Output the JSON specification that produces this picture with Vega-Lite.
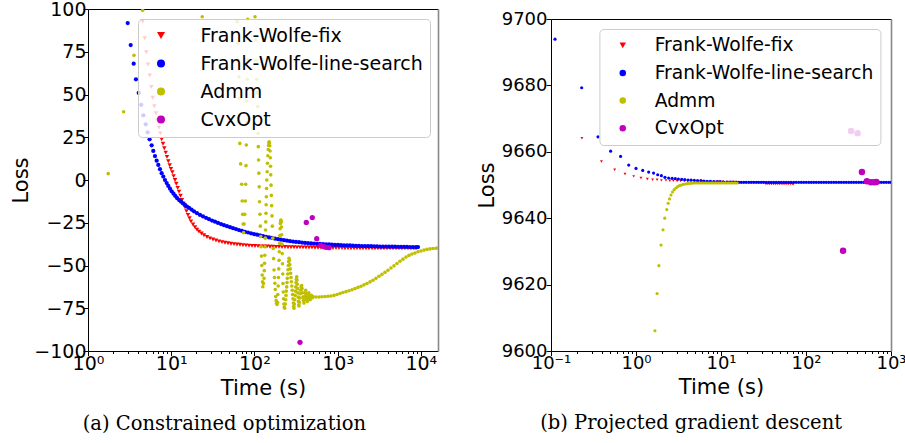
{
"$schema": "https://vega.github.io/schema/vega-lite/v6.json",
"padding": {"left": 10, "top": 0, "right": 0, "bottom": 0},
"background": "white",
"config": {
  "view": {"stroke": null},
  "font": "DejaVu Sans",
  "axis": {"grid": false, "domainColor": "#000", "tickColor": "#000", "labelColor": "#000", "titleColor": "#000", "labelFont": "DejaVu Sans", "titleFont": "DejaVu Sans", "titleFontWeight": "normal", "labelFlush": false, "labelOverlap": false, "labelBound": false, "domainWidth": 1, "tickWidth": 1},
  "legend": {"labelFont": "DejaVu Sans", "labelColor": "#000", "labelLimit": 400, "fillColor": "rgba(255,255,255,0.8)", "strokeColor": "#cccccc", "cornerRadius": 4, "symbolStrokeWidth": 0}
},
"resolve": {"scale": {"color": "independent", "shape": "independent"}, "legend": {"color": "independent", "shape": "independent"}},
"datasets": {
"a": [
{"method":"Frank-Wolfe-fix","time":4.54,"loss":92.8},
{"method":"Frank-Wolfe-fix","time":4.8,"loss":82.9},
{"method":"Frank-Wolfe-fix","time":5.02,"loss":74.7},
{"method":"Frank-Wolfe-fix","time":5.26,"loss":67.6},
{"method":"Frank-Wolfe-fix","time":5.52,"loss":61.2},
{"method":"Frank-Wolfe-fix","time":5.77,"loss":54.4},
{"method":"Frank-Wolfe-fix","time":6.0,"loss":48.1},
{"method":"Frank-Wolfe-fix","time":6.27,"loss":43.1},
{"method":"Frank-Wolfe-fix","time":6.56,"loss":39.0},
{"method":"Frank-Wolfe-fix","time":6.81,"loss":34.9},
{"method":"Frank-Wolfe-fix","time":7.13,"loss":30.6},
{"method":"Frank-Wolfe-fix","time":7.4,"loss":27.3},
{"method":"Frank-Wolfe-fix","time":7.69,"loss":23.8},
{"method":"Frank-Wolfe-fix","time":7.97,"loss":21.2},
{"method":"Frank-Wolfe-fix","time":8.26,"loss":18.6},
{"method":"Frank-Wolfe-fix","time":8.59,"loss":16.0},
{"method":"Frank-Wolfe-fix","time":8.9,"loss":13.5},
{"method":"Frank-Wolfe-fix","time":9.23,"loss":11.0},
{"method":"Frank-Wolfe-fix","time":9.59,"loss":8.6},
{"method":"Frank-Wolfe-fix","time":9.94,"loss":6.5},
{"method":"Frank-Wolfe-fix","time":10.31,"loss":4.5},
{"method":"Frank-Wolfe-fix","time":10.69,"loss":2.3},
{"method":"Frank-Wolfe-fix","time":11.11,"loss":0.0},
{"method":"Frank-Wolfe-fix","time":11.51,"loss":-2.2},
{"method":"Frank-Wolfe-fix","time":11.97,"loss":-4.6},
{"method":"Frank-Wolfe-fix","time":12.41,"loss":-6.8},
{"method":"Frank-Wolfe-fix","time":12.94,"loss":-9.2},
{"method":"Frank-Wolfe-fix","time":13.49,"loss":-11.6},
{"method":"Frank-Wolfe-fix","time":14.05,"loss":-13.8},
{"method":"Frank-Wolfe-fix","time":14.65,"loss":-16.0},
{"method":"Frank-Wolfe-fix","time":15.27,"loss":-18.2},
{"method":"Frank-Wolfe-fix","time":15.92,"loss":-20.4},
{"method":"Frank-Wolfe-fix","time":16.6,"loss":-22.4},
{"method":"Frank-Wolfe-fix","time":17.3,"loss":-24.2},
{"method":"Frank-Wolfe-fix","time":18.28,"loss":-26.0},
{"method":"Frank-Wolfe-fix","time":19.32,"loss":-27.6},
{"method":"Frank-Wolfe-fix","time":20.42,"loss":-29.0},
{"method":"Frank-Wolfe-fix","time":21.59,"loss":-30.2},
{"method":"Frank-Wolfe-fix","time":23.13,"loss":-31.3},
{"method":"Frank-Wolfe-fix","time":24.79,"loss":-32.3},
{"method":"Frank-Wolfe-fix","time":26.94,"loss":-33.3},
{"method":"Frank-Wolfe-fix","time":29.27,"loss":-34.1},
{"method":"Frank-Wolfe-fix","time":31.81,"loss":-34.8},
{"method":"Frank-Wolfe-fix","time":34.56,"loss":-35.4},
{"method":"Frank-Wolfe-fix","time":37.55,"loss":-35.9},
{"method":"Frank-Wolfe-fix","time":40.8,"loss":-36.3},
{"method":"Frank-Wolfe-fix","time":44.33,"loss":-36.7},
{"method":"Frank-Wolfe-fix","time":48.17,"loss":-37.0},
{"method":"Frank-Wolfe-fix","time":52.34,"loss":-37.3},
{"method":"Frank-Wolfe-fix","time":56.87,"loss":-37.5},
{"method":"Frank-Wolfe-fix","time":61.79,"loss":-37.7},
{"method":"Frank-Wolfe-fix","time":67.14,"loss":-37.9},
{"method":"Frank-Wolfe-fix","time":72.95,"loss":-38.1},
{"method":"Frank-Wolfe-fix","time":79.26,"loss":-38.2},
{"method":"Frank-Wolfe-fix","time":86.12,"loss":-38.4},
{"method":"Frank-Wolfe-fix","time":93.58,"loss":-38.5},
{"method":"Frank-Wolfe-fix","time":101.7,"loss":-38.6},
{"method":"Frank-Wolfe-fix","time":110.5,"loss":-38.7},
{"method":"Frank-Wolfe-fix","time":120.0,"loss":-38.8},
{"method":"Frank-Wolfe-fix","time":130.5,"loss":-38.9},
{"method":"Frank-Wolfe-fix","time":141.7,"loss":-38.9},
{"method":"Frank-Wolfe-fix","time":154.0,"loss":-39.0},
{"method":"Frank-Wolfe-fix","time":167.3,"loss":-39.0},
{"method":"Frank-Wolfe-fix","time":181.8,"loss":-39.1},
{"method":"Frank-Wolfe-fix","time":197.6,"loss":-39.1},
{"method":"Frank-Wolfe-fix","time":214.6,"loss":-39.2},
{"method":"Frank-Wolfe-fix","time":233.2,"loss":-39.2},
{"method":"Frank-Wolfe-fix","time":253.4,"loss":-39.3},
{"method":"Frank-Wolfe-fix","time":275.4,"loss":-39.3},
{"method":"Frank-Wolfe-fix","time":299.2,"loss":-39.3},
{"method":"Frank-Wolfe-fix","time":325.1,"loss":-39.4},
{"method":"Frank-Wolfe-fix","time":353.3,"loss":-39.4},
{"method":"Frank-Wolfe-fix","time":383.8,"loss":-39.4},
{"method":"Frank-Wolfe-fix","time":417.1,"loss":-39.5},
{"method":"Frank-Wolfe-fix","time":453.2,"loss":-39.5},
{"method":"Frank-Wolfe-fix","time":492.5,"loss":-39.5},
{"method":"Frank-Wolfe-fix","time":535,"loss":-39.6},
{"method":"Frank-Wolfe-fix","time":581.4,"loss":-39.6},
{"method":"Frank-Wolfe-fix","time":631.8,"loss":-39.6},
{"method":"Frank-Wolfe-fix","time":687,"loss":-39.7},
{"method":"Frank-Wolfe-fix","time":746,"loss":-39.7},
{"method":"Frank-Wolfe-fix","time":810.4,"loss":-39.7},
{"method":"Frank-Wolfe-fix","time":880.6,"loss":-39.8},
{"method":"Frank-Wolfe-fix","time":956.8,"loss":-39.8},
{"method":"Frank-Wolfe-fix","time":1040,"loss":-39.8},
{"method":"Frank-Wolfe-fix","time":1129.7,"loss":-39.8},
{"method":"Frank-Wolfe-fix","time":1227.5,"loss":-39.9},
{"method":"Frank-Wolfe-fix","time":1333.5,"loss":-39.9},
{"method":"Frank-Wolfe-fix","time":1449,"loss":-39.9},
{"method":"Frank-Wolfe-fix","time":1574.5,"loss":-39.9},
{"method":"Frank-Wolfe-fix","time":1710.9,"loss":-39.9},
{"method":"Frank-Wolfe-fix","time":1858.8,"loss":-40.0},
{"method":"Frank-Wolfe-fix","time":2020,"loss":-40.0},
{"method":"Frank-Wolfe-fix","time":2194.6,"loss":-40.0},
{"method":"Frank-Wolfe-fix","time":2384.6,"loss":-40.0},
{"method":"Frank-Wolfe-fix","time":2591.4,"loss":-40.0},
{"method":"Frank-Wolfe-fix","time":2815.6,"loss":-40.0},
{"method":"Frank-Wolfe-fix","time":3059.5,"loss":-40.0},
{"method":"Frank-Wolfe-fix","time":3324,"loss":-40.0},
{"method":"Frank-Wolfe-fix","time":3612,"loss":-40.0},
{"method":"Frank-Wolfe-fix","time":3925,"loss":-40.0},
{"method":"Frank-Wolfe-fix","time":4265,"loss":-40.0},
{"method":"Frank-Wolfe-fix","time":4634,"loss":-40.0},
{"method":"Frank-Wolfe-fix","time":5035,"loss":-40.0},
{"method":"Frank-Wolfe-fix","time":5470,"loss":-40.0},
{"method":"Frank-Wolfe-fix","time":5943,"loss":-40.0},
{"method":"Frank-Wolfe-fix","time":6458,"loss":-40.0},
{"method":"Frank-Wolfe-fix","time":7018,"loss":-40.0},
{"method":"Frank-Wolfe-fix","time":7624,"loss":-40.0},
{"method":"Frank-Wolfe-fix","time":8285,"loss":-40.0},
{"method":"Frank-Wolfe-fix","time":8756,"loss":-40.0},
{"method":"Frank-Wolfe-line-search","time":3.0,"loss":91.8},
{"method":"Frank-Wolfe-line-search","time":3.26,"loss":78.9},
{"method":"Frank-Wolfe-line-search","time":3.54,"loss":68.0},
{"method":"Frank-Wolfe-line-search","time":3.77,"loss":58.9},
{"method":"Frank-Wolfe-line-search","time":4.07,"loss":50.9},
{"method":"Frank-Wolfe-line-search","time":4.37,"loss":44.0},
{"method":"Frank-Wolfe-line-search","time":4.62,"loss":37.8},
{"method":"Frank-Wolfe-line-search","time":4.94,"loss":32.6},
{"method":"Frank-Wolfe-line-search","time":5.21,"loss":27.9},
{"method":"Frank-Wolfe-line-search","time":5.5,"loss":23.8},
{"method":"Frank-Wolfe-line-search","time":5.82,"loss":20.3},
{"method":"Frank-Wolfe-line-search","time":6.09,"loss":17.0},
{"method":"Frank-Wolfe-line-search","time":6.38,"loss":14.0},
{"method":"Frank-Wolfe-line-search","time":6.69,"loss":11.3},
{"method":"Frank-Wolfe-line-search","time":7.0,"loss":8.8},
{"method":"Frank-Wolfe-line-search","time":7.33,"loss":6.3},
{"method":"Frank-Wolfe-line-search","time":7.68,"loss":4.0},
{"method":"Frank-Wolfe-line-search","time":8.04,"loss":2.0},
{"method":"Frank-Wolfe-line-search","time":8.42,"loss":0.0},
{"method":"Frank-Wolfe-line-search","time":8.83,"loss":-1.8},
{"method":"Frank-Wolfe-line-search","time":9.23,"loss":-3.5},
{"method":"Frank-Wolfe-line-search","time":9.67,"loss":-5.1},
{"method":"Frank-Wolfe-line-search","time":10.14,"loss":-6.6},
{"method":"Frank-Wolfe-line-search","time":10.66,"loss":-8.0},
{"method":"Frank-Wolfe-line-search","time":11.2,"loss":-9.3},
{"method":"Frank-Wolfe-line-search","time":11.81,"loss":-10.6},
{"method":"Frank-Wolfe-line-search","time":12.45,"loss":-11.7},
{"method":"Frank-Wolfe-line-search","time":13.12,"loss":-12.7},
{"method":"Frank-Wolfe-line-search","time":13.86,"loss":-13.7},
{"method":"Frank-Wolfe-line-search","time":14.65,"loss":-14.6},
{"method":"Frank-Wolfe-line-search","time":15.49,"loss":-15.5},
{"method":"Frank-Wolfe-line-search","time":16.37,"loss":-16.3},
{"method":"Frank-Wolfe-line-search","time":17.54,"loss":-17.3},
{"method":"Frank-Wolfe-line-search","time":18.79,"loss":-18.3},
{"method":"Frank-Wolfe-line-search","time":20.42,"loss":-19.4},
{"method":"Frank-Wolfe-line-search","time":22.19,"loss":-20.4},
{"method":"Frank-Wolfe-line-search","time":24.11,"loss":-21.3},
{"method":"Frank-Wolfe-line-search","time":26.2,"loss":-22.1},
{"method":"Frank-Wolfe-line-search","time":28.47,"loss":-22.9},
{"method":"Frank-Wolfe-line-search","time":30.94,"loss":-23.7},
{"method":"Frank-Wolfe-line-search","time":33.61,"loss":-24.4},
{"method":"Frank-Wolfe-line-search","time":36.52,"loss":-25.1},
{"method":"Frank-Wolfe-line-search","time":39.68,"loss":-25.8},
{"method":"Frank-Wolfe-line-search","time":43.11,"loss":-26.4},
{"method":"Frank-Wolfe-line-search","time":46.85,"loss":-27.0},
{"method":"Frank-Wolfe-line-search","time":50.9,"loss":-27.6},
{"method":"Frank-Wolfe-line-search","time":55.31,"loss":-28.2},
{"method":"Frank-Wolfe-line-search","time":60.09,"loss":-28.7},
{"method":"Frank-Wolfe-line-search","time":65.3,"loss":-29.3},
{"method":"Frank-Wolfe-line-search","time":70.96,"loss":-29.8},
{"method":"Frank-Wolfe-line-search","time":77.09,"loss":-30.3},
{"method":"Frank-Wolfe-line-search","time":83.77,"loss":-30.7},
{"method":"Frank-Wolfe-line-search","time":91.01,"loss":-31.2},
{"method":"Frank-Wolfe-line-search","time":98.9,"loss":-31.6},
{"method":"Frank-Wolfe-line-search","time":107.5,"loss":-32.0},
{"method":"Frank-Wolfe-line-search","time":116.8,"loss":-32.4},
{"method":"Frank-Wolfe-line-search","time":126.9,"loss":-32.8},
{"method":"Frank-Wolfe-line-search","time":137.9,"loss":-33.2},
{"method":"Frank-Wolfe-line-search","time":149.8,"loss":-33.6},
{"method":"Frank-Wolfe-line-search","time":162.7,"loss":-33.9},
{"method":"Frank-Wolfe-line-search","time":176.8,"loss":-34.3},
{"method":"Frank-Wolfe-line-search","time":192.1,"loss":-34.6},
{"method":"Frank-Wolfe-line-search","time":208.8,"loss":-34.9},
{"method":"Frank-Wolfe-line-search","time":226.9,"loss":-35.2},
{"method":"Frank-Wolfe-line-search","time":246.5,"loss":-35.5},
{"method":"Frank-Wolfe-line-search","time":267.9,"loss":-35.8},
{"method":"Frank-Wolfe-line-search","time":291.0,"loss":-36.0},
{"method":"Frank-Wolfe-line-search","time":316.2,"loss":-36.2},
{"method":"Frank-Wolfe-line-search","time":344,"loss":-36.4},
{"method":"Frank-Wolfe-line-search","time":373.4,"loss":-36.6},
{"method":"Frank-Wolfe-line-search","time":405.7,"loss":-36.8},
{"method":"Frank-Wolfe-line-search","time":440.8,"loss":-36.9},
{"method":"Frank-Wolfe-line-search","time":479,"loss":-37.1},
{"method":"Frank-Wolfe-line-search","time":520.4,"loss":-37.2},
{"method":"Frank-Wolfe-line-search","time":565.5,"loss":-37.3},
{"method":"Frank-Wolfe-line-search","time":614.4,"loss":-37.4},
{"method":"Frank-Wolfe-line-search","time":667.6,"loss":-37.5},
{"method":"Frank-Wolfe-line-search","time":725.4,"loss":-37.6},
{"method":"Frank-Wolfe-line-search","time":789,"loss":-37.7},
{"method":"Frank-Wolfe-line-search","time":856.4,"loss":-37.8},
{"method":"Frank-Wolfe-line-search","time":930.5,"loss":-37.9},
{"method":"Frank-Wolfe-line-search","time":1011,"loss":-38.0},
{"method":"Frank-Wolfe-line-search","time":1099,"loss":-38.1},
{"method":"Frank-Wolfe-line-search","time":1194,"loss":-38.2},
{"method":"Frank-Wolfe-line-search","time":1297,"loss":-38.2},
{"method":"Frank-Wolfe-line-search","time":1409,"loss":-38.3},
{"method":"Frank-Wolfe-line-search","time":1531,"loss":-38.4},
{"method":"Frank-Wolfe-line-search","time":1664,"loss":-38.5},
{"method":"Frank-Wolfe-line-search","time":1808,"loss":-38.5},
{"method":"Frank-Wolfe-line-search","time":1965,"loss":-38.6},
{"method":"Frank-Wolfe-line-search","time":2135,"loss":-38.6},
{"method":"Frank-Wolfe-line-search","time":2320,"loss":-38.7},
{"method":"Frank-Wolfe-line-search","time":2520,"loss":-38.7},
{"method":"Frank-Wolfe-line-search","time":2738,"loss":-38.8},
{"method":"Frank-Wolfe-line-search","time":2976,"loss":-38.8},
{"method":"Frank-Wolfe-line-search","time":3233,"loss":-38.9},
{"method":"Frank-Wolfe-line-search","time":3513,"loss":-38.9},
{"method":"Frank-Wolfe-line-search","time":3817,"loss":-38.9},
{"method":"Frank-Wolfe-line-search","time":4148,"loss":-39.0},
{"method":"Frank-Wolfe-line-search","time":4506,"loss":-39.0},
{"method":"Frank-Wolfe-line-search","time":4897,"loss":-39.0},
{"method":"Frank-Wolfe-line-search","time":5321,"loss":-39.1},
{"method":"Frank-Wolfe-line-search","time":5781,"loss":-39.1},
{"method":"Frank-Wolfe-line-search","time":6282,"loss":-39.1},
{"method":"Frank-Wolfe-line-search","time":6826,"loss":-39.1},
{"method":"Frank-Wolfe-line-search","time":7417,"loss":-39.2},
{"method":"Frank-Wolfe-line-search","time":8058,"loss":-39.2},
{"method":"Frank-Wolfe-line-search","time":8756,"loss":-39.2},
{"method":"Frank-Wolfe-line-search","time":9254,"loss":-39.2},
{"method":"Admm","time":1.75,"loss":3.7},
{"method":"Admm","time":2.68,"loss":39.9},
{"method":"Admm","time":3.57,"loss":72.9},
{"method":"Admm","time":4.54,"loss":99.2},
{"method":"Admm","time":23.6,"loss":95.5},
{"method":"Admm","time":62.1,"loss":92.6},
{"method":"Admm","time":63.3,"loss":80.0},
{"method":"Admm","time":64.3,"loss":70.0},
{"method":"Admm","time":65.2,"loss":60.4},
{"method":"Admm","time":65.9,"loss":47.8},
{"method":"Admm","time":66.4,"loss":34.0},
{"method":"Admm","time":66.8,"loss":21.4},
{"method":"Admm","time":68.3,"loss":9.4},
{"method":"Admm","time":70.3,"loss":-2.5},
{"method":"Admm","time":71.3,"loss":-12.3},
{"method":"Admm","time":72.3,"loss":-20.1},
{"method":"Admm","time":73.2,"loss":-25.7},
{"method":"Admm","time":74.0,"loss":-30.8},
{"method":"Admm","time":75.2,"loss":-25.7},
{"method":"Admm","time":76.5,"loss":-20.1},
{"method":"Admm","time":77.7,"loss":-12.3},
{"method":"Admm","time":78.5,"loss":-2.5},
{"method":"Admm","time":79.3,"loss":8.4},
{"method":"Admm","time":79.9,"loss":20.5},
{"method":"Admm","time":80.4,"loss":33.5},
{"method":"Admm","time":81.0,"loss":46.2},
{"method":"Admm","time":81.8,"loss":58.9},
{"method":"Admm","time":82.2,"loss":70.5},
{"method":"Admm","time":82.6,"loss":82.9},
{"method":"Admm","time":83.2,"loss":94.0},
{"method":"Admm","time":101.7,"loss":95.5},
{"method":"Admm","time":103.2,"loss":81.9},
{"method":"Admm","time":105.0,"loss":70.0},
{"method":"Admm","time":106.6,"loss":58.9},
{"method":"Admm","time":108.2,"loss":51.0},
{"method":"Admm","time":109.6,"loss":42.9},
{"method":"Admm","time":110.6,"loss":27.3},
{"method":"Admm","time":111.5,"loss":19.5},
{"method":"Admm","time":112.3,"loss":11.7},
{"method":"Admm","time":113.2,"loss":4.0},
{"method":"Admm","time":114.2,"loss":-4.0},
{"method":"Admm","time":115.3,"loss":-12.7},
{"method":"Admm","time":116.5,"loss":-20.0},
{"method":"Admm","time":117.8,"loss":-27.0},
{"method":"Admm","time":119.3,"loss":-33.0},
{"method":"Admm","time":120.5,"loss":-39.0},
{"method":"Admm","time":121.6,"loss":-44.5},
{"method":"Admm","time":122.8,"loss":-50.0},
{"method":"Admm","time":124.0,"loss":-55.6},
{"method":"Admm","time":125.2,"loss":-59.5},
{"method":"Admm","time":126.3,"loss":-62.4},
{"method":"Admm","time":128.5,"loss":-60.5},
{"method":"Admm","time":130.5,"loss":-57.5},
{"method":"Admm","time":131.5,"loss":-53.0},
{"method":"Admm","time":132.5,"loss":-48.7},
{"method":"Admm","time":133.5,"loss":-44.0},
{"method":"Admm","time":134.4,"loss":-39.0},
{"method":"Admm","time":135.3,"loss":-34.0},
{"method":"Admm","time":136.2,"loss":-29.2},
{"method":"Admm","time":137.0,"loss":-24.5},
{"method":"Admm","time":137.8,"loss":-19.5},
{"method":"Admm","time":138.6,"loss":-14.5},
{"method":"Admm","time":139.2,"loss":-9.8},
{"method":"Admm","time":140.0,"loss":-5.0},
{"method":"Admm","time":141.0,"loss":0.0},
{"method":"Admm","time":142.3,"loss":4.8},
{"method":"Admm","time":143.7,"loss":9.8},
{"method":"Admm","time":145.2,"loss":14.2},
{"method":"Admm","time":146.7,"loss":17.8},
{"method":"Admm","time":148.0,"loss":20.2},
{"method":"Admm","time":149.2,"loss":21.8},
{"method":"Admm","time":150.5,"loss":22.4},
{"method":"Admm","time":151.8,"loss":21.8},
{"method":"Admm","time":153.0,"loss":20.0},
{"method":"Admm","time":154.2,"loss":17.0},
{"method":"Admm","time":155.3,"loss":13.0},
{"method":"Admm","time":156.3,"loss":8.0},
{"method":"Admm","time":157.3,"loss":3.0},
{"method":"Admm","time":158.5,"loss":-3.0},
{"method":"Admm","time":159.8,"loss":-9.0},
{"method":"Admm","time":161.2,"loss":-15.0},
{"method":"Admm","time":162.7,"loss":-21.0},
{"method":"Admm","time":164.3,"loss":-27.0},
{"method":"Admm","time":166.2,"loss":-34.0},
{"method":"Admm","time":168.3,"loss":-40.0},
{"method":"Admm","time":170.2,"loss":-46.0},
{"method":"Admm","time":172.2,"loss":-52.6},
{"method":"Admm","time":174.3,"loss":-57.0},
{"method":"Admm","time":176.3,"loss":-60.4},
{"method":"Admm","time":178.3,"loss":-64.0},
{"method":"Admm","time":180.3,"loss":-68.2},
{"method":"Admm","time":182.5,"loss":-70.5},
{"method":"Admm","time":184.7,"loss":-72.1},
{"method":"Admm","time":187.0,"loss":-72.8},
{"method":"Admm","time":189.5,"loss":-71.5},
{"method":"Admm","time":191.5,"loss":-67.0},
{"method":"Admm","time":193.2,"loss":-62.0},
{"method":"Admm","time":194.8,"loss":-57.0},
{"method":"Admm","time":196.3,"loss":-52.0},
{"method":"Admm","time":197.8,"loss":-47.0},
{"method":"Admm","time":199.2,"loss":-42.0},
{"method":"Admm","time":200.6,"loss":-37.0},
{"method":"Admm","time":202.0,"loss":-32.5},
{"method":"Admm","time":203.5,"loss":-28.5},
{"method":"Admm","time":205.0,"loss":-25.5},
{"method":"Admm","time":206.7,"loss":-23.8},
{"method":"Admm","time":208.4,"loss":-23.4},
{"method":"Admm","time":210.0,"loss":-24.5},
{"method":"Admm","time":211.5,"loss":-27.5},
{"method":"Admm","time":213.0,"loss":-32.0},
{"method":"Admm","time":214.5,"loss":-37.5},
{"method":"Admm","time":216.0,"loss":-43.0},
{"method":"Admm","time":217.6,"loss":-49.0},
{"method":"Admm","time":219.2,"loss":-55.0},
{"method":"Admm","time":220.8,"loss":-60.5},
{"method":"Admm","time":222.5,"loss":-65.5},
{"method":"Admm","time":224.3,"loss":-69.5},
{"method":"Admm","time":226.3,"loss":-72.5},
{"method":"Admm","time":228.5,"loss":-74.3},
{"method":"Admm","time":231.0,"loss":-75.0},
{"method":"Admm","time":235.2,"loss":-72.5},
{"method":"Admm","time":237.8,"loss":-70.0},
{"method":"Admm","time":239.8,"loss":-67.5},
{"method":"Admm","time":241.8,"loss":-65.0},
{"method":"Admm","time":244.5,"loss":-62.5},
{"method":"Admm","time":246.5,"loss":-60.0},
{"method":"Admm","time":248.6,"loss":-57.5},
{"method":"Admm","time":251.3,"loss":-55.0},
{"method":"Admm","time":253.4,"loss":-52.5},
{"method":"Admm","time":255.5,"loss":-50.0},
{"method":"Admm","time":257.7,"loss":-47.8},
{"method":"Admm","time":260.5,"loss":-45.8},
{"method":"Admm","time":263.4,"loss":-47.0},
{"method":"Admm","time":266.4,"loss":-49.5},
{"method":"Admm","time":269.3,"loss":-52.0},
{"method":"Admm","time":272.3,"loss":-54.5},
{"method":"Admm","time":275.4,"loss":-57.0},
{"method":"Admm","time":278.4,"loss":-59.5},
{"method":"Admm","time":281.5,"loss":-62.0},
{"method":"Admm","time":284.7,"loss":-64.5},
{"method":"Admm","time":287.8,"loss":-67.0},
{"method":"Admm","time":291.0,"loss":-69.5},
{"method":"Admm","time":294.3,"loss":-72.0},
{"method":"Admm","time":296.7,"loss":-73.8},
{"method":"Admm","time":299.2,"loss":-75.0},
{"method":"Admm","time":302.5,"loss":-72.5},
{"method":"Admm","time":305.9,"loss":-70.0},
{"method":"Admm","time":309.3,"loss":-67.5},
{"method":"Admm","time":311.9,"loss":-65.0},
{"method":"Admm","time":314.5,"loss":-62.5},
{"method":"Admm","time":317.1,"loss":-60.0},
{"method":"Admm","time":319.7,"loss":-58.0},
{"method":"Admm","time":322.4,"loss":-56.6},
{"method":"Admm","time":325.1,"loss":-58.5},
{"method":"Admm","time":327.8,"loss":-61.0},
{"method":"Admm","time":330.6,"loss":-63.5},
{"method":"Admm","time":333.3,"loss":-66.0},
{"method":"Admm","time":336.1,"loss":-68.5},
{"method":"Admm","time":338.9,"loss":-71.0},
{"method":"Admm","time":341.7,"loss":-73.0},
{"method":"Admm","time":343.6,"loss":-73.7},
{"method":"Admm","time":347.4,"loss":-71.5},
{"method":"Admm","time":351.3,"loss":-69.0},
{"method":"Admm","time":355.2,"loss":-66.5},
{"method":"Admm","time":359.2,"loss":-64.5},
{"method":"Admm","time":364.2,"loss":-62.5},
{"method":"Admm","time":370.2,"loss":-61.7},
{"method":"Admm","time":374.4,"loss":-63.5},
{"method":"Admm","time":378.6,"loss":-66.0},
{"method":"Admm","time":382.8,"loss":-68.5},
{"method":"Admm","time":388.1,"loss":-70.5},
{"method":"Admm","time":394.6,"loss":-72.0},
{"method":"Admm","time":399.0,"loss":-70.0},
{"method":"Admm","time":403.4,"loss":-68.0},
{"method":"Admm","time":407.9,"loss":-66.0},
{"method":"Admm","time":413.6,"loss":-64.5},
{"method":"Admm","time":418.2,"loss":-66.5},
{"method":"Admm","time":422.9,"loss":-68.5},
{"method":"Admm","time":427.6,"loss":-70.0},
{"method":"Admm","time":432.3,"loss":-71.0},
{"method":"Admm","time":438.4,"loss":-69.0},
{"method":"Admm","time":444.5,"loss":-67.3},
{"method":"Admm","time":450.7,"loss":-66.0},
{"method":"Admm","time":456.9,"loss":-67.5},
{"method":"Admm","time":463.3,"loss":-69.0},
{"method":"Admm","time":468.4,"loss":-70.0},
{"method":"Admm","time":476.3,"loss":-68.5},
{"method":"Admm","time":484.3,"loss":-67.5},
{"method":"Admm","time":492.4,"loss":-68.5},
{"method":"Admm","time":500.6,"loss":-68.8},
{"method":"Admm","time":506,"loss":-68.2},
{"method":"Admm","time":550,"loss":-68.4},
{"method":"Admm","time":598,"loss":-68.4},
{"method":"Admm","time":649,"loss":-68.3},
{"method":"Admm","time":706,"loss":-68.2},
{"method":"Admm","time":767,"loss":-68.0},
{"method":"Admm","time":833,"loss":-67.8},
{"method":"Admm","time":905,"loss":-67.5},
{"method":"Admm","time":984,"loss":-67.0},
{"method":"Admm","time":1069,"loss":-66.4},
{"method":"Admm","time":1161,"loss":-65.8},
{"method":"Admm","time":1262,"loss":-65.3},
{"method":"Admm","time":1371,"loss":-64.8},
{"method":"Admm","time":1490,"loss":-64.2},
{"method":"Admm","time":1619,"loss":-63.5},
{"method":"Admm","time":1759,"loss":-62.8},
{"method":"Admm","time":1911,"loss":-62.1},
{"method":"Admm","time":2077,"loss":-61.3},
{"method":"Admm","time":2256,"loss":-60.5},
{"method":"Admm","time":2452,"loss":-59.6},
{"method":"Admm","time":2664,"loss":-58.6},
{"method":"Admm","time":2894,"loss":-57.5},
{"method":"Admm","time":3145,"loss":-56.3},
{"method":"Admm","time":3417,"loss":-55.2},
{"method":"Admm","time":3713,"loss":-54.0},
{"method":"Admm","time":4034,"loss":-52.8},
{"method":"Admm","time":4383,"loss":-51.5},
{"method":"Admm","time":4763,"loss":-50.2},
{"method":"Admm","time":5175,"loss":-48.8},
{"method":"Admm","time":5623,"loss":-47.5},
{"method":"Admm","time":6110,"loss":-46.3},
{"method":"Admm","time":6639,"loss":-45.1},
{"method":"Admm","time":7213,"loss":-44.1},
{"method":"Admm","time":7838,"loss":-43.3},
{"method":"Admm","time":8516,"loss":-42.7},
{"method":"Admm","time":9254,"loss":-42.0},
{"method":"Admm","time":10055,"loss":-41.5},
{"method":"Admm","time":10925,"loss":-41.0},
{"method":"Admm","time":11871,"loss":-40.6},
{"method":"Admm","time":12898,"loss":-40.3},
{"method":"Admm","time":14015,"loss":-40.1},
{"method":"Admm","time":15228,"loss":-39.9},
{"method":"Admm","time":16093,"loss":-39.8},
{"method":"CvxOpt","time":420.7,"loss":-24.8},
{"method":"CvxOpt","time":496.4,"loss":-22.0},
{"method":"CvxOpt","time":561,"loss":-34.3},
{"method":"CvxOpt","time":626,"loss":-38.2},
{"method":"CvxOpt","time":687,"loss":-39.0},
{"method":"CvxOpt","time":731,"loss":-39.4},
{"method":"CvxOpt","time":789,"loss":-39.6},
{"method":"CvxOpt","time":353,"loss":-94.9}
],
"b": [
{"method":"Frank-Wolfe-fix","time":0.1115,"loss":9694.0},
{"method":"Frank-Wolfe-fix","time":0.231,"loss":9664.1},
{"method":"Frank-Wolfe-fix","time":0.392,"loss":9657.1},
{"method":"Frank-Wolfe-fix","time":0.561,"loss":9654.6},
{"method":"Frank-Wolfe-fix","time":0.742,"loss":9653.3},
{"method":"Frank-Wolfe-fix","time":0.939,"loss":9652.6},
{"method":"Frank-Wolfe-fix","time":1.144,"loss":9652.1},
{"method":"Frank-Wolfe-fix","time":1.36,"loss":9651.8},
{"method":"Frank-Wolfe-fix","time":1.57,"loss":9651.6},
{"method":"Frank-Wolfe-fix","time":1.77,"loss":9651.6},
{"method":"Frank-Wolfe-fix","time":1.99,"loss":9651.4},
{"method":"Frank-Wolfe-fix","time":2.25,"loss":9651.4},
{"method":"Frank-Wolfe-fix","time":2.5,"loss":9651.3},
{"method":"Frank-Wolfe-fix","time":2.75,"loss":9651.3},
{"method":"Frank-Wolfe-fix","time":3.05,"loss":9651.2},
{"method":"Frank-Wolfe-fix","time":3.35,"loss":9651.2},
{"method":"Frank-Wolfe-fix","time":3.7,"loss":9651.2},
{"method":"Frank-Wolfe-fix","time":4.05,"loss":9651.2},
{"method":"Frank-Wolfe-fix","time":4.45,"loss":9651.1},
{"method":"Frank-Wolfe-fix","time":4.9,"loss":9651.1},
{"method":"Frank-Wolfe-fix","time":5.4,"loss":9651.1},
{"method":"Frank-Wolfe-fix","time":6.0,"loss":9651.1},
{"method":"Frank-Wolfe-fix","time":6.7,"loss":9651.0},
{"method":"Frank-Wolfe-fix","time":7.5,"loss":9651.0},
{"method":"Frank-Wolfe-fix","time":8.4,"loss":9651.0},
{"method":"Frank-Wolfe-fix","time":9.4,"loss":9651.0},
{"method":"Frank-Wolfe-fix","time":10.5,"loss":9651.0},
{"method":"Frank-Wolfe-fix","time":12,"loss":9650.9},
{"method":"Frank-Wolfe-fix","time":13.5,"loss":9650.9},
{"method":"Frank-Wolfe-fix","time":15,"loss":9650.9},
{"method":"Frank-Wolfe-fix","time":17,"loss":9650.8},
{"method":"Frank-Wolfe-fix","time":19,"loss":9650.8},
{"method":"Frank-Wolfe-fix","time":21.5,"loss":9650.8},
{"method":"Frank-Wolfe-fix","time":24,"loss":9650.8},
{"method":"Frank-Wolfe-fix","time":27,"loss":9650.8},
{"method":"Frank-Wolfe-fix","time":30,"loss":9650.8},
{"method":"Frank-Wolfe-fix","time":33.8,"loss":9650.3},
{"method":"Frank-Wolfe-fix","time":35.6,"loss":9650.3},
{"method":"Frank-Wolfe-fix","time":37.4,"loss":9650.3},
{"method":"Frank-Wolfe-fix","time":39.4,"loss":9650.3},
{"method":"Frank-Wolfe-fix","time":41.5,"loss":9650.3},
{"method":"Frank-Wolfe-fix","time":43.7,"loss":9650.3},
{"method":"Frank-Wolfe-fix","time":46.0,"loss":9650.3},
{"method":"Frank-Wolfe-fix","time":48.4,"loss":9650.3},
{"method":"Frank-Wolfe-fix","time":51,"loss":9650.3},
{"method":"Frank-Wolfe-fix","time":53.7,"loss":9650.3},
{"method":"Frank-Wolfe-fix","time":56.5,"loss":9650.3},
{"method":"Frank-Wolfe-fix","time":59.5,"loss":9650.3},
{"method":"Frank-Wolfe-fix","time":62.6,"loss":9650.3},
{"method":"Frank-Wolfe-fix","time":66,"loss":9650.3},
{"method":"Frank-Wolfe-fix","time":69.4,"loss":9650.3},
{"method":"Frank-Wolfe-fix","time":71,"loss":9650.3},
{"method":"Frank-Wolfe-line-search","time":0.1115,"loss":9693.9},
{"method":"Frank-Wolfe-line-search","time":0.2296,"loss":9679.3},
{"method":"Frank-Wolfe-line-search","time":0.357,"loss":9664.5},
{"method":"Frank-Wolfe-line-search","time":0.503,"loss":9660.2},
{"method":"Frank-Wolfe-line-search","time":0.659,"loss":9658.6},
{"method":"Frank-Wolfe-line-search","time":0.821,"loss":9656.0},
{"method":"Frank-Wolfe-line-search","time":1.0,"loss":9655.0},
{"method":"Frank-Wolfe-line-search","time":1.2,"loss":9654.4},
{"method":"Frank-Wolfe-line-search","time":1.41,"loss":9653.9},
{"method":"Frank-Wolfe-line-search","time":1.61,"loss":9653.6},
{"method":"Frank-Wolfe-line-search","time":1.8,"loss":9653.1},
{"method":"Frank-Wolfe-line-search","time":1.99,"loss":9652.8},
{"method":"Frank-Wolfe-line-search","time":2.19,"loss":9652.3},
{"method":"Frank-Wolfe-line-search","time":2.42,"loss":9652.1},
{"method":"Frank-Wolfe-line-search","time":2.66,"loss":9652.0},
{"method":"Frank-Wolfe-line-search","time":2.9,"loss":9651.9},
{"method":"Frank-Wolfe-line-search","time":3.15,"loss":9651.8},
{"method":"Frank-Wolfe-line-search","time":3.45,"loss":9651.7},
{"method":"Frank-Wolfe-line-search","time":3.75,"loss":9651.6},
{"method":"Frank-Wolfe-line-search","time":4.1,"loss":9651.5},
{"method":"Frank-Wolfe-line-search","time":4.45,"loss":9651.5},
{"method":"Frank-Wolfe-line-search","time":4.85,"loss":9651.4},
{"method":"Frank-Wolfe-line-search","time":5.3,"loss":9651.3},
{"method":"Frank-Wolfe-line-search","time":5.8,"loss":9651.3},
{"method":"Frank-Wolfe-line-search","time":6.3,"loss":9651.2},
{"method":"Frank-Wolfe-line-search","time":6.9,"loss":9651.1},
{"method":"Frank-Wolfe-line-search","time":7.5,"loss":9651.1},
{"method":"Frank-Wolfe-line-search","time":8.2,"loss":9651.0},
{"method":"Frank-Wolfe-line-search","time":9.0,"loss":9651.0},
{"method":"Frank-Wolfe-line-search","time":9.8,"loss":9651.0},
{"method":"Frank-Wolfe-line-search","time":10.7,"loss":9650.9},
{"method":"Frank-Wolfe-line-search","time":11.7,"loss":9650.9},
{"method":"Frank-Wolfe-line-search","time":12.8,"loss":9650.9},
{"method":"Frank-Wolfe-line-search","time":14.0,"loss":9650.9},
{"method":"Frank-Wolfe-line-search","time":15.3,"loss":9650.8},
{"method":"Frank-Wolfe-line-search","time":16.2,"loss":9650.8},
{"method":"Frank-Wolfe-line-search","time":17.3,"loss":9650.8},
{"method":"Frank-Wolfe-line-search","time":18.5,"loss":9650.8},
{"method":"Frank-Wolfe-line-search","time":19.8,"loss":9650.8},
{"method":"Frank-Wolfe-line-search","time":21.2,"loss":9650.8},
{"method":"Frank-Wolfe-line-search","time":22.7,"loss":9650.8},
{"method":"Frank-Wolfe-line-search","time":24.3,"loss":9650.8},
{"method":"Frank-Wolfe-line-search","time":26.0,"loss":9650.8},
{"method":"Frank-Wolfe-line-search","time":27.8,"loss":9650.8},
{"method":"Frank-Wolfe-line-search","time":29.7,"loss":9650.8},
{"method":"Frank-Wolfe-line-search","time":31.8,"loss":9650.8},
{"method":"Frank-Wolfe-line-search","time":34.0,"loss":9650.8},
{"method":"Frank-Wolfe-line-search","time":36.4,"loss":9650.8},
{"method":"Frank-Wolfe-line-search","time":39.0,"loss":9650.8},
{"method":"Frank-Wolfe-line-search","time":41.7,"loss":9650.8},
{"method":"Frank-Wolfe-line-search","time":44.6,"loss":9650.8},
{"method":"Frank-Wolfe-line-search","time":47.8,"loss":9650.8},
{"method":"Frank-Wolfe-line-search","time":51.1,"loss":9650.8},
{"method":"Frank-Wolfe-line-search","time":54.7,"loss":9650.8},
{"method":"Frank-Wolfe-line-search","time":58.5,"loss":9650.8},
{"method":"Frank-Wolfe-line-search","time":62.6,"loss":9650.8},
{"method":"Frank-Wolfe-line-search","time":67.0,"loss":9650.8},
{"method":"Frank-Wolfe-line-search","time":71.7,"loss":9650.8},
{"method":"Frank-Wolfe-line-search","time":76.7,"loss":9650.8},
{"method":"Frank-Wolfe-line-search","time":82.1,"loss":9650.8},
{"method":"Frank-Wolfe-line-search","time":87.9,"loss":9650.8},
{"method":"Frank-Wolfe-line-search","time":94.0,"loss":9650.8},
{"method":"Frank-Wolfe-line-search","time":100.6,"loss":9650.8},
{"method":"Frank-Wolfe-line-search","time":107.7,"loss":9650.8},
{"method":"Frank-Wolfe-line-search","time":115.2,"loss":9650.8},
{"method":"Frank-Wolfe-line-search","time":123.3,"loss":9650.8},
{"method":"Frank-Wolfe-line-search","time":131.9,"loss":9650.8},
{"method":"Frank-Wolfe-line-search","time":141.2,"loss":9650.8},
{"method":"Frank-Wolfe-line-search","time":151.1,"loss":9650.8},
{"method":"Frank-Wolfe-line-search","time":161.7,"loss":9650.8},
{"method":"Frank-Wolfe-line-search","time":173.0,"loss":9650.8},
{"method":"Frank-Wolfe-line-search","time":185.1,"loss":9650.8},
{"method":"Frank-Wolfe-line-search","time":198.1,"loss":9650.8},
{"method":"Frank-Wolfe-line-search","time":212.0,"loss":9650.8},
{"method":"Frank-Wolfe-line-search","time":226.9,"loss":9650.8},
{"method":"Frank-Wolfe-line-search","time":242.8,"loss":9650.8},
{"method":"Frank-Wolfe-line-search","time":259.8,"loss":9650.8},
{"method":"Frank-Wolfe-line-search","time":278.0,"loss":9650.8},
{"method":"Frank-Wolfe-line-search","time":297.5,"loss":9650.8},
{"method":"Frank-Wolfe-line-search","time":318.3,"loss":9650.8},
{"method":"Frank-Wolfe-line-search","time":340.6,"loss":9650.8},
{"method":"Frank-Wolfe-line-search","time":364.5,"loss":9650.8},
{"method":"Frank-Wolfe-line-search","time":390.1,"loss":9650.8},
{"method":"Frank-Wolfe-line-search","time":417.4,"loss":9650.8},
{"method":"Frank-Wolfe-line-search","time":446.7,"loss":9650.8},
{"method":"Frank-Wolfe-line-search","time":478.0,"loss":9650.8},
{"method":"Frank-Wolfe-line-search","time":511.5,"loss":9650.8},
{"method":"Frank-Wolfe-line-search","time":547.3,"loss":9650.8},
{"method":"Frank-Wolfe-line-search","time":585.7,"loss":9650.8},
{"method":"Frank-Wolfe-line-search","time":626.7,"loss":9650.8},
{"method":"Frank-Wolfe-line-search","time":670.6,"loss":9650.8},
{"method":"Frank-Wolfe-line-search","time":717.6,"loss":9650.8},
{"method":"Frank-Wolfe-line-search","time":767.9,"loss":9650.8},
{"method":"Frank-Wolfe-line-search","time":821.7,"loss":9650.8},
{"method":"Frank-Wolfe-line-search","time":879.3,"loss":9650.8},
{"method":"Frank-Wolfe-line-search","time":940.9,"loss":9650.8},
{"method":"Frank-Wolfe-line-search","time":1000,"loss":9650.8},
{"method":"Admm","time":1.67,"loss":9606.1},
{"method":"Admm","time":1.77,"loss":9617.3},
{"method":"Admm","time":1.86,"loss":9625.7},
{"method":"Admm","time":1.97,"loss":9631.9},
{"method":"Admm","time":2.08,"loss":9636.5},
{"method":"Admm","time":2.18,"loss":9640.0},
{"method":"Admm","time":2.3,"loss":9642.6},
{"method":"Admm","time":2.39,"loss":9644.5},
{"method":"Admm","time":2.48,"loss":9645.8},
{"method":"Admm","time":2.58,"loss":9647.0},
{"method":"Admm","time":2.69,"loss":9647.9},
{"method":"Admm","time":2.81,"loss":9648.6},
{"method":"Admm","time":2.95,"loss":9649.1},
{"method":"Admm","time":3.09,"loss":9649.5},
{"method":"Admm","time":3.25,"loss":9649.8},
{"method":"Admm","time":3.42,"loss":9650.0},
{"method":"Admm","time":3.6,"loss":9650.2},
{"method":"Admm","time":3.8,"loss":9650.3},
{"method":"Admm","time":4.0,"loss":9650.4},
{"method":"Admm","time":4.2,"loss":9650.5},
{"method":"Admm","time":4.45,"loss":9650.5},
{"method":"Admm","time":4.7,"loss":9650.6},
{"method":"Admm","time":4.96,"loss":9650.6},
{"method":"Admm","time":5.24,"loss":9650.6},
{"method":"Admm","time":5.53,"loss":9650.6},
{"method":"Admm","time":5.84,"loss":9650.6},
{"method":"Admm","time":6.16,"loss":9650.6},
{"method":"Admm","time":6.5,"loss":9650.6},
{"method":"Admm","time":6.87,"loss":9650.6},
{"method":"Admm","time":7.25,"loss":9650.6},
{"method":"Admm","time":7.65,"loss":9650.6},
{"method":"Admm","time":8.08,"loss":9650.6},
{"method":"Admm","time":8.53,"loss":9650.6},
{"method":"Admm","time":9.0,"loss":9650.6},
{"method":"Admm","time":9.5,"loss":9650.6},
{"method":"Admm","time":10.03,"loss":9650.6},
{"method":"Admm","time":10.6,"loss":9650.6},
{"method":"Admm","time":11.2,"loss":9650.6},
{"method":"Admm","time":11.8,"loss":9650.6},
{"method":"Admm","time":12.5,"loss":9650.6},
{"method":"Admm","time":13.2,"loss":9650.6},
{"method":"Admm","time":13.9,"loss":9650.6},
{"method":"Admm","time":14.7,"loss":9650.6},
{"method":"Admm","time":15.5,"loss":9650.6},
{"method":"CvxOpt","time":273,"loss":9630.2},
{"method":"CvxOpt","time":339,"loss":9666.3},
{"method":"CvxOpt","time":405,"loss":9665.6},
{"method":"CvxOpt","time":455,"loss":9653.9},
{"method":"CvxOpt","time":520,"loss":9651.1},
{"method":"CvxOpt","time":580,"loss":9650.8},
{"method":"CvxOpt","time":633,"loss":9650.8},
{"method":"CvxOpt","time":674,"loss":9650.9}
]
},
"spacing": 38,
"hconcat": [
{
  "width": 350, "height": 342,
  "title": {"text": "(a) Constrained optimization", "orient": "bottom", "anchor": "middle", "frame": "bounds", "font": "DejaVu Serif", "fontSize": 19.5, "fontWeight": "normal", "color": "#000", "offset": 16},
  "layer": [
    {
      "data": {"name": "a"},
      "mark": {"type": "point", "filled": true, "opacity": 1, "strokeWidth": 0, "clip": true},
      "encoding": {
        "x": {"field": "time", "type": "quantitative", "scale": {"type": "log", "domain": [1, 16100], "nice": false},
              "axis": {"values": [1, 10, 100, 1000, 10000], "labelExpr": "datum.value == 1 ? '10⁰' : datum.value == 10 ? '10¹' : datum.value == 100 ? '10²' : datum.value == 1000 ? '10³' : '10⁴'", "title": "Time (s)", "tickSize": 4.5, "labelFontSize": 19, "labelPadding": -1, "titleFontSize": 21, "titlePadding": 4}},
        "y": {"field": "loss", "type": "quantitative", "scale": {"domain": [-100, 100], "nice": false, "zero": false},
              "axis": {"values": [-100, -75, -50, -25, 0, 25, 50, 75, 100], "title": "Loss", "tickSize": 5, "labelFontSize": 19, "labelPadding": -3, "titleFontSize": 21, "titlePadding": 2}},
        "color": {"field": "method", "type": "nominal", "scale": {"domain": ["Frank-Wolfe-fix", "Frank-Wolfe-line-search", "Admm", "CvxOpt"], "range": ["#ff0000", "#0000ff", "#bfbf00", "#bf00bf"]},
                  "legend": {"orient": "none", "legendX": 50, "legendY": 10, "title": null, "padding": 7, "symbolSize": 64, "symbolOffset": 6.5, "labelOffset": 30, "rowPadding": 8.0, "labelFontSize": 19, "encode": {"symbols": {"update": {"size": {"signal": "datum.value === 'CvxOpt' ? 64 : datum.value === 'Frank-Wolfe-fix' ? 30 : 18"}}}}}},
        "shape": {"field": "method", "type": "nominal", "scale": {"domain": ["Frank-Wolfe-fix", "Frank-Wolfe-line-search", "Admm", "CvxOpt"], "range": ["triangle-down", "circle", "circle", "circle"]},
                  "legend": {"orient": "none", "legendX": 50, "legendY": 10, "title": null, "padding": 7, "symbolSize": 64, "symbolOffset": 6.5, "labelOffset": 30, "rowPadding": 8.0, "labelFontSize": 19, "encode": {"symbols": {"update": {"size": {"signal": "datum.value === 'CvxOpt' ? 64 : datum.value === 'Frank-Wolfe-fix' ? 30 : 18"}}}}}},
        "size": {"condition": [{"test": "datum.method === 'CvxOpt'", "value": 28}, {"test": "datum.method === 'Frank-Wolfe-fix'", "value": 20}, {"test": "datum.method === 'Admm'", "value": 13}], "value": 18}
      }
    },
    {
      "data": {"values": [{}]},
      "mark": {"type": "point", "opacity": 0},
      "encoding": {
        "x": {"datum": 1, "type": "quantitative", "axis": {"orient": "bottom", "values": [2,3,4,5,6,7,8,9,20,30,40,50,60,70,80,90,200,300,400,500,600,700,800,900,2000,3000,4000,5000,6000,7000,8000,9000], "labels": false, "domain": false, "tickSize": 2.5, "title": null}}
      }
    },
    {
      "data": {"values": [{}]},
      "mark": {"type": "point", "opacity": 0},
      "encoding": {
        "x": {"datum": 1, "type": "quantitative", "axis": {"orient": "top", "labels": false, "ticks": false, "domain": true, "title": null, "offset": 0}}
      }
    },
    {
      "data": {"values": [{}]},
      "mark": {"type": "point", "opacity": 0},
      "encoding": {
        "y": {"datum": 0, "type": "quantitative", "axis": {"orient": "right", "labels": false, "ticks": false, "domain": true, "domainColor": "#888888", "domainWidth": 1.6, "title": null}}
      }
    }
  ],
  "resolve": {"axis": {"x": "independent", "y": "independent"}}
},
{
  "width": 340, "height": 342,
  "title": {"text": "(b) Projected gradient descent", "orient": "bottom", "anchor": "middle", "frame": "bounds", "font": "DejaVu Serif", "fontSize": 19.5, "fontWeight": "normal", "color": "#000", "offset": 16},
  "layer": [
    {
      "data": {"name": "b"},
      "mark": {"type": "point", "filled": true, "opacity": 1, "strokeWidth": 0, "clip": true},
      "encoding": {
        "x": {"field": "time", "type": "quantitative", "scale": {"type": "log", "domain": [0.1, 1000], "nice": false},
              "axis": {"values": [0.1, 1, 10, 100, 1000], "labelExpr": "datum.value < 0.5 ? '10⁻¹' : datum.value == 1 ? '10⁰' : datum.value == 10 ? '10¹' : datum.value == 100 ? '10²' : '10³'", "title": "Time (s)", "tickSize": 4.5, "labelFontSize": 18, "labelPadding": -1, "titleFontSize": 21, "titlePadding": 4}},
        "y": {"field": "loss", "type": "quantitative", "scale": {"domain": [9600, 9700], "range": [342, 10], "nice": false, "zero": false},
              "axis": {"values": [9600, 9620, 9640, 9660, 9680, 9700], "format": "d", "title": "Loss", "tickSize": 5, "labelFontSize": 18, "labelPadding": -1, "titleFontSize": 21, "titlePadding": 4}},
        "color": {"field": "method", "type": "nominal", "scale": {"domain": ["Frank-Wolfe-fix", "Frank-Wolfe-line-search", "Admm", "CvxOpt"], "range": ["#ff0000", "#0000ff", "#bfbf00", "#bf00bf"]},
                  "legend": {"orient": "none", "legendX": 48.4, "legendY": 20, "title": null, "padding": 7, "symbolSize": 42, "symbolOffset": 7.0, "labelOffset": 22.6, "rowPadding": 7.6, "labelFontSize": 18.7, "encode": {"symbols": {"update": {"size": {"signal": "datum.value === 'CvxOpt' ? 45 : 8"}}}}}},
        "shape": {"field": "method", "type": "nominal", "scale": {"domain": ["Frank-Wolfe-fix", "Frank-Wolfe-line-search", "Admm", "CvxOpt"], "range": ["triangle-down", "circle", "circle", "circle"]},
                  "legend": {"orient": "none", "legendX": 48.4, "legendY": 20, "title": null, "padding": 7, "symbolSize": 42, "symbolOffset": 7.0, "labelOffset": 22.6, "rowPadding": 7.6, "labelFontSize": 18.7, "encode": {"symbols": {"update": {"size": {"signal": "datum.value === 'CvxOpt' ? 45 : 8"}}}}}},
        "size": {"condition": [{"test": "datum.method === 'CvxOpt'", "value": 42}, {"test": "datum.method === 'Frank-Wolfe-fix'", "value": 8}], "value": 10}
      }
    },
    {
      "data": {"values": [{}]},
      "mark": {"type": "point", "opacity": 0},
      "encoding": {
        "x": {"datum": 1, "type": "quantitative", "axis": {"orient": "bottom", "values": [0.2,0.3,0.4,0.5,0.6,0.7,0.8,0.9,2,3,4,5,6,7,8,9,20,30,40,50,60,70,80,90,200,300,400,500,600,700,800,900], "labels": false, "domain": false, "tickSize": 2.5, "title": null}}
      }
    },
    {
      "data": {"values": [{}]},
      "mark": {"type": "point", "opacity": 0},
      "encoding": {
        "x": {"datum": 1, "type": "quantitative", "axis": {"orient": "top", "labels": false, "ticks": false, "domain": true, "title": null, "offset": -10}}
      }
    },
    {
      "data": {"values": [{}]},
      "mark": {"type": "point", "opacity": 0},
      "encoding": {
        "y": {"datum": 9650, "type": "quantitative", "axis": {"orient": "right", "labels": false, "ticks": false, "domain": true, "domainColor": "#888888", "domainWidth": 1.6, "title": null}}
      }
    }
  ],
  "resolve": {"axis": {"x": "independent", "y": "independent"}}
}
]
}
